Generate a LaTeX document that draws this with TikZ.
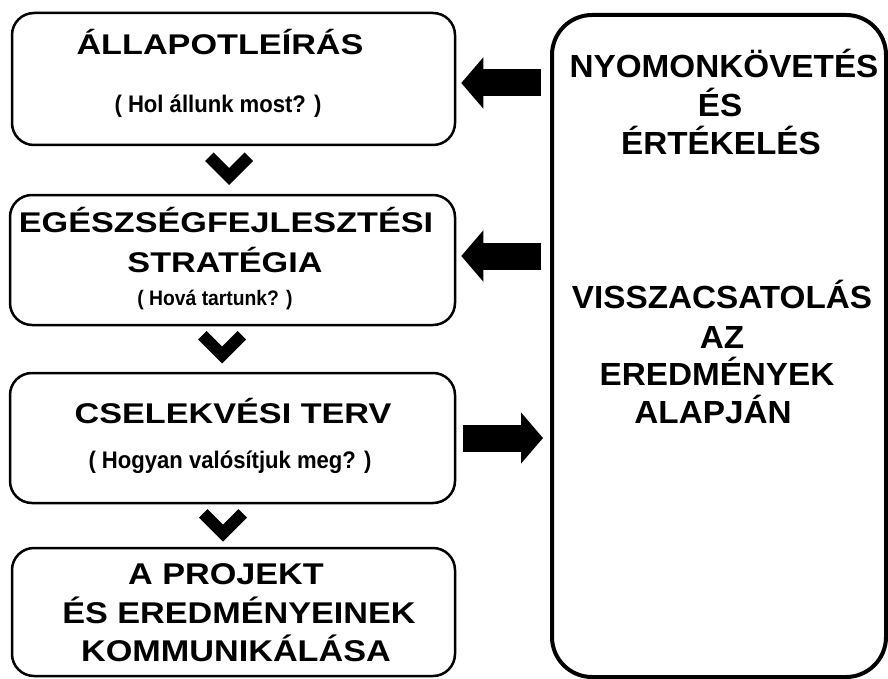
\documentclass[tikz,border=0pt]{standalone}
\usepackage{fontspec}
\setmainfont{Liberation Sans}
\newfontfamily\titlefont[FakeStretch=1.2]{Liberation Sans}
\newfontfamily\lastfont[FakeStretch=1.14]{Liberation Sans}
\newfontfamily\rightfont[FakeStretch=1.04]{Liberation Sans}
\newfontfamily\subfont[FakeStretch=0.92]{Liberation Sans}
\usetikzlibrary{arrows.meta,calc}
\begin{document}
\begin{tikzpicture}[x=1pt,y=-1pt,
  box/.style={draw, line width=2.5pt, rounded corners=22pt, inner sep=0},
  bigbox/.style={draw, line width=4pt, rounded corners=40pt, inner sep=0},
  ttl/.style={font=\titlefont\bfseries\fontsize{28.5}{31}\selectfont, anchor=base, inner sep=0},
  lastttl/.style={font=\lastfont\bfseries\fontsize{30}{32}\selectfont, anchor=base, inner sep=0},
  sub/.style={font=\subfont\bfseries\fontsize{24}{28}\selectfont, anchor=base, inner sep=0},
  subsmall/.style={font=\subfont\bfseries\fontsize{21}{25}\selectfont, anchor=base, inner sep=0},
  rtx/.style={font=\rightfont\bfseries\fontsize{32}{35}\selectfont, anchor=base, inner sep=0},
  blockarrow/.style={line width=27pt, -{Triangle[length=22pt,width=50pt]}},
  pics/chev/.style={code={\fill (-24,-7.5) -- (-15.5,-16) -- (0,-0.5) -- (15.5,-16) -- (24,-7.5) -- (0,16.5) -- cycle;}}
]
\useasboundingbox (0,0) rectangle (888,679);
\fill[white] (0,0) rectangle (888,679);

% boxes
\node[box, minimum width=443pt, minimum height=132pt] (b1) at (233.5,79) {};
\node[box, minimum width=445pt, minimum height=130pt] (b2) at (232.5,260) {};
\node[box, minimum width=445pt, minimum height=130pt] (b3) at (232.5,438) {};
\node[box, minimum width=443pt, minimum height=128pt] (b4) at (233.5,612) {};
\node[bigbox, minimum width=334pt, minimum height=662pt] (R) at (719,346) {};

% texts
\node[ttl] (t1) at (220,55) {ÁLLAPOTLEÍRÁS};
\node[sub] (s1) at (218,113) {( Hol állunk most? )};
\node[ttl] (t2a) at (226,232) {EGÉSZSÉGFEJLESZTÉSI};
\node[ttl] (t2b) at (225,272) {STRATÉGIA};
\node[subsmall] (s2) at (215,305) {( Hová tartunk? )};
\node[ttl] (t3) at (233,423) {CSELEKVÉSI TERV};
\node[sub] (s3) at (230,468) {( Hogyan valósítjuk meg? )};
\node[lastttl] (t4a) at (226,584) {A PROJEKT};
\node[lastttl] (t4b) at (239,623) {ÉS EREDMÉNYEINEK};
\node[lastttl] (t4c) at (236,661) {KOMMUNIKÁLÁSA};

\node[rtx] (r1) at (724,78) {NYOMONKÖVETÉS};
\node[rtx] (r2) at (720,117) {ÉS};
\node[rtx] (r3) at (721,155) {ÉRTÉKELÉS};
\node[rtx] (r4) at (722,308) {VISSZACSATOLÁS};
\node[rtx] (r5) at (722,348) {AZ};
\node[rtx] (r6) at (717,385) {EREDMÉNYEK};
\node[rtx] (r7) at (713,423) {ALAPJÁN};

% chevrons
\pic at (229,168.5) {chev};
\pic at (222,347) {chev};
\pic at (223,525) {chev};

% block arrows
\draw[blockarrow] ($(R.west |- 0,83)+(-9,0)$) -- ($(b1.east |- 0,83)+(5,0)$);
\draw[blockarrow] ($(R.west |- 0,256)+(-9,0)$) -- ($(b2.east |- 0,256)+(5,0)$);
\draw[blockarrow] ($(b3.east |- 0,438)+(7,0)$) -- ($(R.west |- 0,438)+(-7,0)$);
\end{tikzpicture}
\end{document}
